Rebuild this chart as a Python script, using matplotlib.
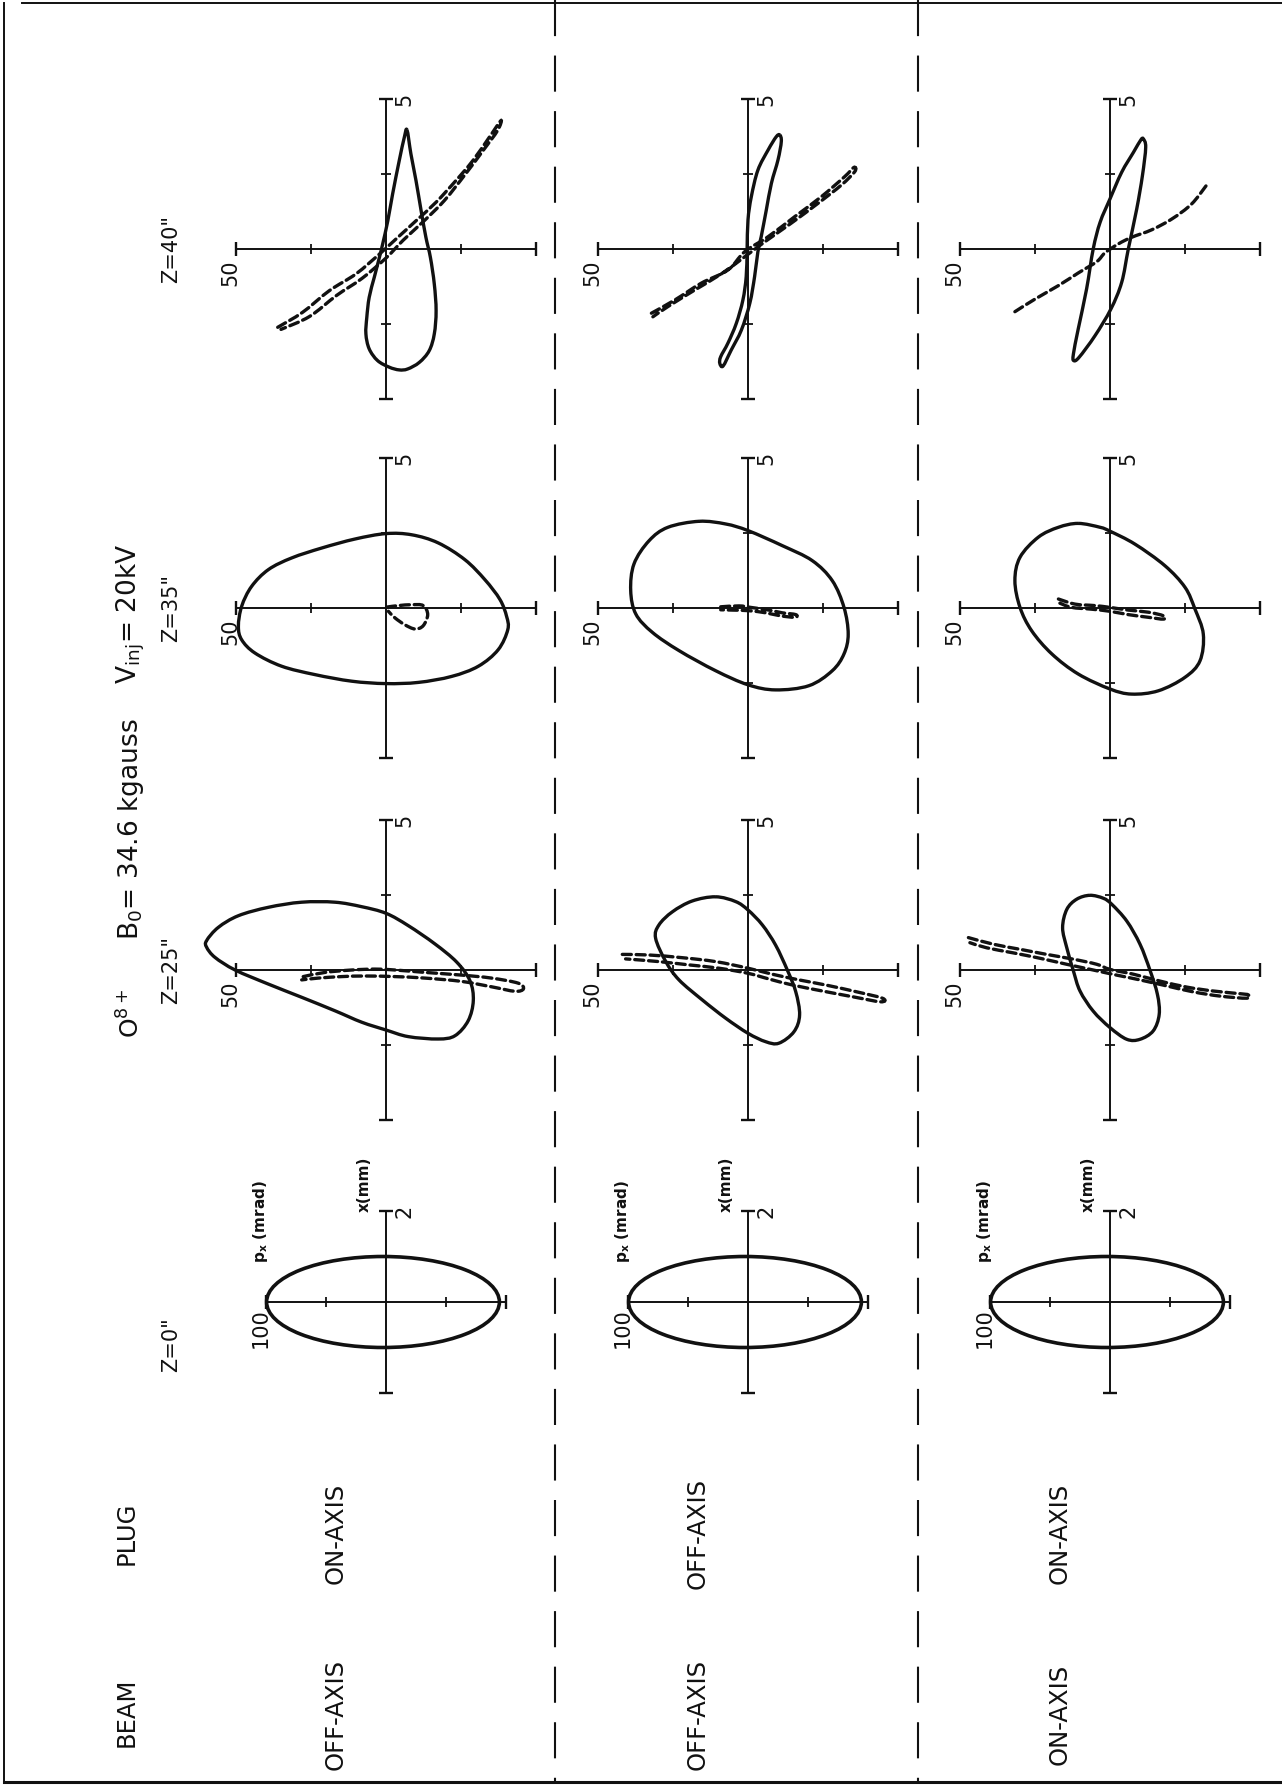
import numpy as np
import matplotlib
matplotlib.use("Agg")
import matplotlib.pyplot as plt
from matplotlib.patches import Ellipse, PathPatch
from matplotlib.path import Path

W, H, DPI = 1282, 1787, 100
INK = "#111111"

plt.rcParams["font.family"] = ["DejaVu Sans"]
plt.rcParams["mathtext.fontset"] = "dejavusans"
plt.rcParams["lines.scale_dashes"] = False

beam_states = ["OFF-AXIS", "OFF-AXIS", "ON-AXIS"]
plug_states = ["ON-AXIS", "OFF-AXIS", "ON-AXIS"]
z_labels = ['Z=40"', 'Z=35"', 'Z=25"', 'Z=0"']

# initial emittance ellipse at Z=0: centre and half axes (mrad, mm)
init_centre_px = 2.5
init_half_px = 97.0
init_half_x = 1.0

# phase-space curves, columns are p_x (mrad), x (mm)
loop_r1_z40 = np.array([
    [-7.0, 3.97], [-8.3, 3.17], [-10.0, 2.28], [-11.7, 1.28], [-13.3, 0.39],
    [-14.8, -0.28], [-16.1, -1.17], [-16.7, -2.06], [-16.1, -2.83], [-14.4, -3.39],
    [-11.1, -3.78], [-7.2, -4.0], [-4.4, -4.03], [-1.1, -3.94], [2.8, -3.72],
    [5.6, -3.33], [6.7, -2.83], [6.4, -2.28], [5.6, -1.61], [3.9, -0.94],
    [2.2, -0.28], [1.1, 0.17], [-0.6, 0.94], [-2.2, 1.83], [-4.4, 2.94], [-6.1, 3.72]])
trace_r1_z40 = np.array([
    [36.1, -2.61], [27.8, -2.11], [18.9, -1.39], [10.0, -0.83], [2.2, -0.17],
    [-3.3, 0.33], [-10.0, 0.94], [-16.7, 1.56], [-23.3, 2.28], [-28.9, 2.94],
    [-34.4, 3.72], [-38.3, 4.28], [-37.2, 3.95], [-32.5, 3.3], [-26.5, 2.5],
    [-19.5, 1.62], [-12.5, 0.92], [-5.8, 0.3], [0.0, -0.3], [8.0, -0.98],
    [16.5, -1.55], [25.5, -2.25], [35.0, -2.68]])

loop_r1_z35 = np.array([
    [49.2, -0.61], [48.1, 0.06], [44.8, 0.72], [39.2, 1.28], [31.4, 1.67],
    [21.4, 2.0], [10.3, 2.3], [0.0, 2.48], [-8.6, 2.44], [-17.4, 2.17],
    [-26.3, 1.61], [-33.0, 0.94], [-38.0, 0.28], [-40.2, -0.28], [-40.6, -0.72],
    [-37.4, -1.39], [-30.8, -1.94], [-21.9, -2.28], [-10.8, -2.48], [0.0, -2.52],
    [11.4, -2.44], [23.7, -2.22], [34.8, -1.94], [43.7, -1.5], [48.1, -1.06]])
trace_r1_z35 = np.array([
    [-0.2, 0.03], [-4.1, 0.08], [-8.6, 0.11], [-12.4, 0.08], [-13.9, -0.22],
    [-12.4, -0.59], [-9.7, -0.7], [-6.3, -0.56], [-3.0, -0.33], [-0.8, -0.11]])

loop_r1_z25 = np.array([
    [59.8, 0.98], [55.9, 1.42], [49.2, 1.81], [39.2, 2.09], [28.1, 2.26],
    [17.0, 2.26], [8.1, 2.11], [0.0, 1.89], [-7.4, 1.48], [-16.3, 0.87],
    [-23.6, 0.26], [-28.0, -0.36], [-29.1, -1.02], [-27.4, -1.69], [-23.0, -2.19],
    [-17.4, -2.3], [-7.4, -2.22], [0.0, -2.0], [8.1, -1.74], [17.0, -1.36],
    [28.1, -0.91], [39.2, -0.47], [50.3, 0.0], [57.0, 0.42], [59.8, 0.76]])
trace_r1_z25 = np.array([
    [27.6, -0.22], [20.3, -0.08], [11.4, 0.0], [3.7, 0.03], [-3.0, 0.0],
    [-13.0, -0.08], [-25.2, -0.17], [-35.2, -0.27], [-44.1, -0.44], [-45.8, -0.63],
    [-43.0, -0.71], [-35.2, -0.56], [-25.2, -0.38], [-13.0, -0.27], [-3.0, -0.22],
    [7.0, -0.2], [14.8, -0.22], [22.6, -0.27], [28.1, -0.33]])

loop_r2_z40 = np.array([
    [-10.6, 3.8], [-11.1, 3.58], [-10.0, 2.97], [-7.8, 2.19], [-6.1, 1.3],
    [-4.4, 0.41], [-3.3, -0.09], [-2.2, -0.92], [-0.6, -1.81], [2.2, -2.7],
    [5.6, -3.37], [8.3, -3.9], [9.4, -3.81], [9.1, -3.59], [6.7, -3.14],
    [3.9, -2.48], [1.7, -1.7], [0.6, -0.92], [0.3, -0.03], [0.0, 0.97],
    [-1.1, 1.74], [-3.3, 2.63], [-6.7, 3.3], [-9.4, 3.74]])
trace_r2_z40 = np.array([
    [32.2, -2.14], [24.4, -1.7], [15.6, -1.14], [6.7, -0.7], [1.1, -0.09],
    [-6.7, 0.41], [-15.6, 1.08], [-24.4, 1.74], [-32.2, 2.41], [-35.3, 2.72],
    [-35.6, 2.58], [-31.1, 2.13], [-23.3, 1.52], [-14.4, 0.86], [-5.6, 0.24],
    [1.1, -0.26], [8.9, -0.83], [17.8, -1.37], [26.7, -1.92], [31.7, -2.26]])

loop_r2_z35 = np.array([
    [16.3, 2.89], [7.4, 2.8], [0.0, 2.58], [-11.4, 2.08], [-21.4, 1.58],
    [-28.1, 0.91], [-32.0, 0.02], [-33.4, -0.87], [-32.0, -1.53], [-28.1, -2.09],
    [-20.3, -2.59], [-9.2, -2.73], [0.0, -2.56], [10.8, -2.09], [23.0, -1.42],
    [31.9, -0.81], [37.4, -0.2], [39.1, 0.58], [38.0, 1.47], [33.0, 2.24], [26.7, 2.69]])
trace_r2_z35 = np.array([
    [9.1, 0.04], [3.0, 0.07], [-0.9, 0.02], [-7.0, -0.07], [-11.4, -0.16],
    [-15.9, -0.22], [-15.7, -0.31], [-10.8, -0.26], [-5.9, -0.16], [-0.3, -0.09],
    [5.2, -0.07], [9.1, -0.06]])

loop_r2_z25 = np.array([
    [10.8, 2.44], [4.1, 2.28], [0.0, 2.0], [-4.8, 1.5], [-9.2, 0.83],
    [-13.1, 0.0], [-15.9, -0.72], [-17.2, -1.5], [-15.3, -2.06], [-10.3, -2.44],
    [-5.9, -2.39], [0.0, -2.11], [7.4, -1.61], [15.2, -1.0], [23.0, -0.33],
    [27.4, 0.28], [30.8, 1.06], [29.7, 1.5], [25.2, 1.94], [18.6, 2.3]])
trace_r2_z25 = np.array([
    [41.9, 0.52], [33.0, 0.5], [21.9, 0.41], [10.8, 0.28], [0.0, 0.06],
    [-8.1, -0.14], [-17.0, -0.33], [-25.9, -0.5], [-35.9, -0.72], [-44.8, -0.94],
    [-44.2, -1.06], [-34.8, -0.89], [-24.8, -0.7], [-14.8, -0.5], [-7.0, -0.3],
    [0.0, -0.11], [9.7, 0.06], [19.7, 0.17], [29.7, 0.28], [40.8, 0.37]])

loop_r3_z40 = np.array([
    [-11.1, 3.67], [-11.9, 3.39], [-10.8, 2.44], [-8.9, 1.33], [-6.1, 0.0],
    [-3.9, -1.11], [-0.3, -2.0], [5.0, -2.89], [10.3, -3.61], [12.1, -3.72],
    [12.2, -3.5], [10.6, -2.67], [7.8, -1.33], [5.6, 0.0], [3.3, 0.89],
    [0.0, 1.67], [-3.9, 2.56], [-7.8, 3.22], [-10.3, 3.64]])
trace_r3_z40 = np.array([
    [31.7, -2.09], [25.0, -1.67], [17.2, -1.22], [10.6, -0.8], [4.4, -0.42],
    [1.7, -0.13], [-2.8, 0.17], [-7.2, 0.39], [-13.9, 0.64], [-20.6, 1.0],
    [-27.2, 1.5], [-32.2, 2.13]])

loop_r3_z35 = np.array([
    [10.6, 2.82], [3.3, 2.69], [0.0, 2.56], [-8.3, 2.13], [-18.3, 1.41],
    [-25.0, 0.69], [-28.3, -0.03], [-31.1, -0.87], [-30.0, -1.76], [-25.0, -2.31],
    [-16.1, -2.76], [-7.2, -2.87], [0.0, -2.7], [10.6, -2.2], [19.4, -1.53],
    [26.1, -0.76], [30.0, 0.02], [31.7, 0.91], [30.0, 1.69], [23.9, 2.36], [17.2, 2.69]])
trace_r3_z35 = np.array([
    [17.2, 0.3], [11.7, 0.13], [5.0, 0.08], [0.0, 0.02], [-6.1, -0.07],
    [-12.8, -0.14], [-17.8, -0.26], [-17.8, -0.37], [-12.8, -0.31], [-6.1, -0.22],
    [0.0, -0.11], [6.1, -0.04], [12.8, 0.02], [16.7, 0.16]])

loop_r3_z25 = np.array([
    [6.7, 2.49], [2.2, 2.39], [-0.6, 2.19], [-5.6, 1.63], [-10.0, 0.86],
    [-13.3, 0.0], [-15.8, -0.81], [-16.4, -1.48], [-14.4, -2.03], [-10.0, -2.31],
    [-5.6, -2.31], [0.0, -1.92], [5.6, -1.37], [10.0, -0.7], [12.2, -0.03],
    [14.4, 0.74], [15.8, 1.41], [14.4, 2.02], [11.1, 2.36]])
trace_r3_z25 = np.array([
    [47.2, 1.08], [38.9, 0.86], [30.0, 0.69], [21.1, 0.52], [12.2, 0.36],
    [4.4, 0.19], [0.0, 0.02], [-7.8, -0.14], [-16.7, -0.37], [-25.6, -0.57],
    [-34.4, -0.7], [-43.3, -0.79], [-46.1, -0.83], [-45.6, -0.94], [-36.7, -0.87],
    [-27.8, -0.73], [-18.9, -0.53], [-10.0, -0.33], [-2.2, -0.17], [5.6, 0.0],
    [14.4, 0.19], [23.3, 0.39], [32.2, 0.57], [41.1, 0.74], [46.7, 0.91]])

panels = [
    [(loop_r1_z40, trace_r1_z40), (loop_r1_z35, trace_r1_z35), (loop_r1_z25, trace_r1_z25)],
    [(loop_r2_z40, trace_r2_z40), (loop_r2_z35, trace_r2_z35), (loop_r2_z25, trace_r2_z25)],
    [(loop_r3_z40, trace_r3_z40), (loop_r3_z35, trace_r3_z35), (loop_r3_z25, trace_r3_z25)],
]

# page layout in pixels (page is printed sideways)
row_cx = [386, 748, 1110]
col_cy = [249, 608, 970, 1302]

fig = plt.figure(figsize=(W / DPI, H / DPI), dpi=DPI)
fig.patch.set_facecolor("white")
page = fig.add_axes([0, 0, 1, 1])
page.set_xlim(0, W)
page.set_ylim(H, 0)
page.axis("off")


def phase_axes(cx, cy, px_per_mrad, px_per_mm, lim_p, lim_x):
    w = 2 * lim_p * px_per_mrad
    h = 2 * lim_x * px_per_mm
    ax = fig.add_axes([(cx - w / 2) / W, 1 - (cy + h / 2) / H, w / W, h / H])
    ax.set_xlim(lim_p, -lim_p)
    ax.set_ylim(-lim_x, lim_x)
    ax.axis("off")
    return ax


def smooth_path(pts, closed):
    # cubic Bezier segments passing through every plotted point
    n = len(pts)
    if closed:
        ext = np.vstack([pts[-1:], pts, pts[:2]])
        segs = n
    else:
        ext = np.vstack([pts[:1], pts, pts[-1:]])
        segs = n - 1
    verts = [ext[1]]
    codes = [Path.MOVETO]
    for i in range(segs):
        p0, p1, p2, p3 = ext[i], ext[i + 1], ext[i + 2], ext[i + 3]
        verts += [p1 + (p2 - p0) / 6, p2 - (p3 - p1) / 6, p2]
        codes += [Path.CURVE4] * 3
    return Path(verts, codes)


def cross(ax, p_end, x_end, p_ticks, x_ticks):
    ax.plot([p_end, -p_end], [0, 0], color=INK, lw=1.4)
    ax.plot([0, 0], [-x_end, x_end], color=INK, lw=1.4)
    ax.plot([p_end, -p_end], [0, 0], ls="none", marker="|", ms=10, mew=1.7, color=INK)
    ax.plot([0, 0], [-x_end, x_end], ls="none", marker="_", ms=10, mew=1.7, color=INK)
    if p_ticks:
        ax.plot(p_ticks, np.zeros(len(p_ticks)), ls="none", marker="|", ms=7, mew=1.3, color=INK)
    if x_ticks:
        ax.plot(np.zeros(len(x_ticks)), x_ticks, ls="none", marker="_", ms=7, mew=1.3, color=INK)


def side_label(ax, text, xy, dx, dy, size=15, weight="normal"):
    ax.annotate(text, xy=xy, xytext=(dx, dy), textcoords="offset points",
                rotation=90, ha="center", va="center", fontsize=size,
                fontweight=weight, color=INK)


for r, cx in enumerate(row_cx):
    for c in range(3):
        loop, trace = panels[r][c]
        ax = phase_axes(cx, col_cy[c], 3.0, 30.0, 66, 6.6)
        cross(ax, 50, 5, [25, -25], [2.5, -2.5])
        ax.add_patch(PathPatch(smooth_path(loop, True), fill=False, ec=INK,
                               lw=2.4, joinstyle="round", clip_on=False))
        dash = PathPatch(smooth_path(trace, False), fill=False, ec=INK, lw=2.4,
                         ls=(0, (6.5, 3.5)), clip_on=False)
        dash.set_capstyle("round")
        ax.add_patch(dash)
        side_label(ax, "50", (50, 0), -4, -17)
        side_label(ax, "5", (0, 5), 13, 0)

    # initial ellipse at the plug entrance
    ax = phase_axes(cx, col_cy[3], 1.2, 45.5, 125, 2.6)
    cross(ax, 100, 2, [50, -50], [])
    ax.add_patch(Ellipse((init_centre_px, 0), 2 * init_half_px, 2 * init_half_x,
                         fill=False, lw=2.6, ec=INK))
    side_label(ax, "100", (100, 0), -4, -19)
    side_label(ax, "2", (0, 2), 13, 0)
    side_label(ax, "x(mm)", (0, 2), -16, 19, size=11, weight="bold")
    side_label(ax, r"$\mathbf{p_x}$ (mrad)", (100, 0), -4, 58, size=11, weight="bold")

# row separators and frame
for x in (555, 918):
    page.plot([x, x], [0, 1782], color=INK, lw=1.5, dashes=[26, 14])
page.plot([4, 4], [3, 1782], color=INK, lw=1.4)
page.plot([4, W], [1782, 1782], color=INK, lw=2.2)
page.plot([22, W], [3, 3], color=INK, lw=1.4)

# headings
for cy, lab in zip(col_cy, z_labels):
    page.text(171, cy if lab != 'Z=0"' else 1345, lab, rotation=90, ha="center",
              va="center", fontsize=15, color=INK)
page.text(131, 1013, r"O$^{\mathregular{8+}}$", rotation=90, ha="center", va="center",
          fontsize=18, color=INK)
page.text(131, 829, r"B$_\mathregular{0}$= 34.6 kgauss", rotation=90, ha="center",
          va="center", fontsize=19, color=INK)
page.text(131, 614, r"V$_\mathregular{inj}$= 20kV", rotation=90, ha="center",
          va="center", fontsize=19, color=INK)

page.text(127, 1712, "BEAM", rotation=90, ha="center", va="center", fontsize=17.5, color=INK)
page.text(127, 1533, "PLUG", rotation=90, ha="center", va="center", fontsize=17.5, color=INK)
for cx, beam, plug in zip(row_cx, beam_states, plug_states):
    page.text(cx - 50, 1714, beam, rotation=90, ha="center", va="center",
              fontsize=17.5, color=INK)
    page.text(cx - 50, 1533, plug, rotation=90, ha="center", va="center",
              fontsize=17.5, color=INK)

fig.savefig("out.png", dpi=DPI, facecolor="white")
